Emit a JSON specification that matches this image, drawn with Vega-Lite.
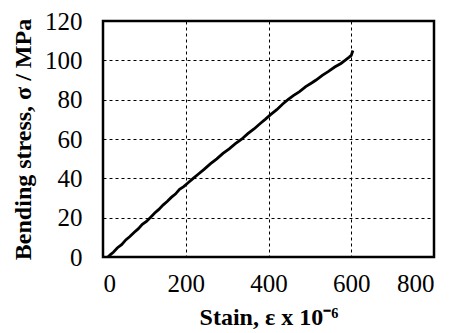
{
  "$schema": "https://vega.github.io/schema/vega-lite/v6.json",
  "autosize": "none",
  "padding": {"left": 103, "top": 21, "right": 20, "bottom": 76},
  "width": 331,
  "height": 236,
  "background": "white",
  "config": {
    "view": {"stroke": "black", "strokeWidth": 2.5},
    "font": "Liberation Serif"
  },
  "data": {
    "values": [
      {"strain": 12, "stress": 0}, {"strain": 18, "stress": 1.2}, {"strain": 25, "stress": 2.4},
      {"strain": 35, "stress": 4.7}, {"strain": 45, "stress": 6.3}, {"strain": 55, "stress": 8.7},
      {"strain": 65, "stress": 10.4}, {"strain": 75, "stress": 12.5}, {"strain": 85, "stress": 14.3},
      {"strain": 95, "stress": 16.6}, {"strain": 105, "stress": 18.1}, {"strain": 114, "stress": 20},
      {"strain": 125, "stress": 22.4}, {"strain": 135, "stress": 24.2}, {"strain": 145, "stress": 26.4},
      {"strain": 155, "stress": 28.2}, {"strain": 165, "stress": 30.3}, {"strain": 175, "stress": 32},
      {"strain": 185, "stress": 34.4}, {"strain": 195, "stress": 35.8}, {"strain": 205, "stress": 37.6},
      {"strain": 218, "stress": 40}, {"strain": 230, "stress": 42.1}, {"strain": 245, "stress": 44.7},
      {"strain": 260, "stress": 47.5}, {"strain": 275, "stress": 49.9}, {"strain": 290, "stress": 52.7},
      {"strain": 305, "stress": 55}, {"strain": 320, "stress": 57.6}, {"strain": 335, "stress": 59.9},
      {"strain": 350, "stress": 62.7}, {"strain": 365, "stress": 65.1}, {"strain": 380, "stress": 67.9},
      {"strain": 392, "stress": 70}, {"strain": 405, "stress": 72.4}, {"strain": 420, "stress": 74.9},
      {"strain": 435, "stress": 77.9}, {"strain": 447, "stress": 80}, {"strain": 460, "stress": 82.1},
      {"strain": 475, "stress": 84.1}, {"strain": 490, "stress": 86.6}, {"strain": 505, "stress": 88.6},
      {"strain": 515, "stress": 90}, {"strain": 530, "stress": 92.4}, {"strain": 545, "stress": 94.4},
      {"strain": 560, "stress": 96.6}, {"strain": 575, "stress": 98.4}, {"strain": 585, "stress": 100},
      {"strain": 595, "stress": 101.6}, {"strain": 600, "stress": 102.5}, {"strain": 604, "stress": 105}
    ]
  },
  "mark": {"type": "line", "color": "black", "strokeWidth": 2.8},
  "encoding": {
    "x": {
      "field": "strain", "type": "quantitative",
      "scale": {"domain": [0, 800], "nice": false},
      "axis": {
        "values": [0, 200, 400, 600, 800],
        "title": "Stain, ε x 10⁻⁶",
        "titleFont": "Liberation Serif", "titleFontSize": 24, "titleFontWeight": "bold", "titleColor": "black",
        "titlePadding": 9,
        "labelFont": "Liberation Serif", "labelFontSize": 25, "labelColor": "black", "labelPadding": 14,
        "ticks": false, "domain": false,
        "grid": true, "gridColor": "black", "gridDash": [3, 3], "gridWidth": 1, "gridOpacity": 1
      }
    },
    "y": {
      "field": "stress", "type": "quantitative",
      "scale": {"domain": [0, 120], "nice": false},
      "axis": {
        "values": [0, 20, 40, 60, 80, 100, 120],
        "title": "Bending stress, σ / MPa",
        "titleFont": "Liberation Serif", "titleFontSize": 24, "titleFontWeight": "bold", "titleColor": "black",
        "titlePadding": 9,
        "labelFont": "Liberation Serif", "labelFontSize": 25, "labelColor": "black", "labelPadding": 21,
        "ticks": false, "domain": false,
        "grid": true, "gridColor": "black", "gridDash": [3, 3], "gridWidth": 1, "gridOpacity": 1
      }
    }
  }
}
